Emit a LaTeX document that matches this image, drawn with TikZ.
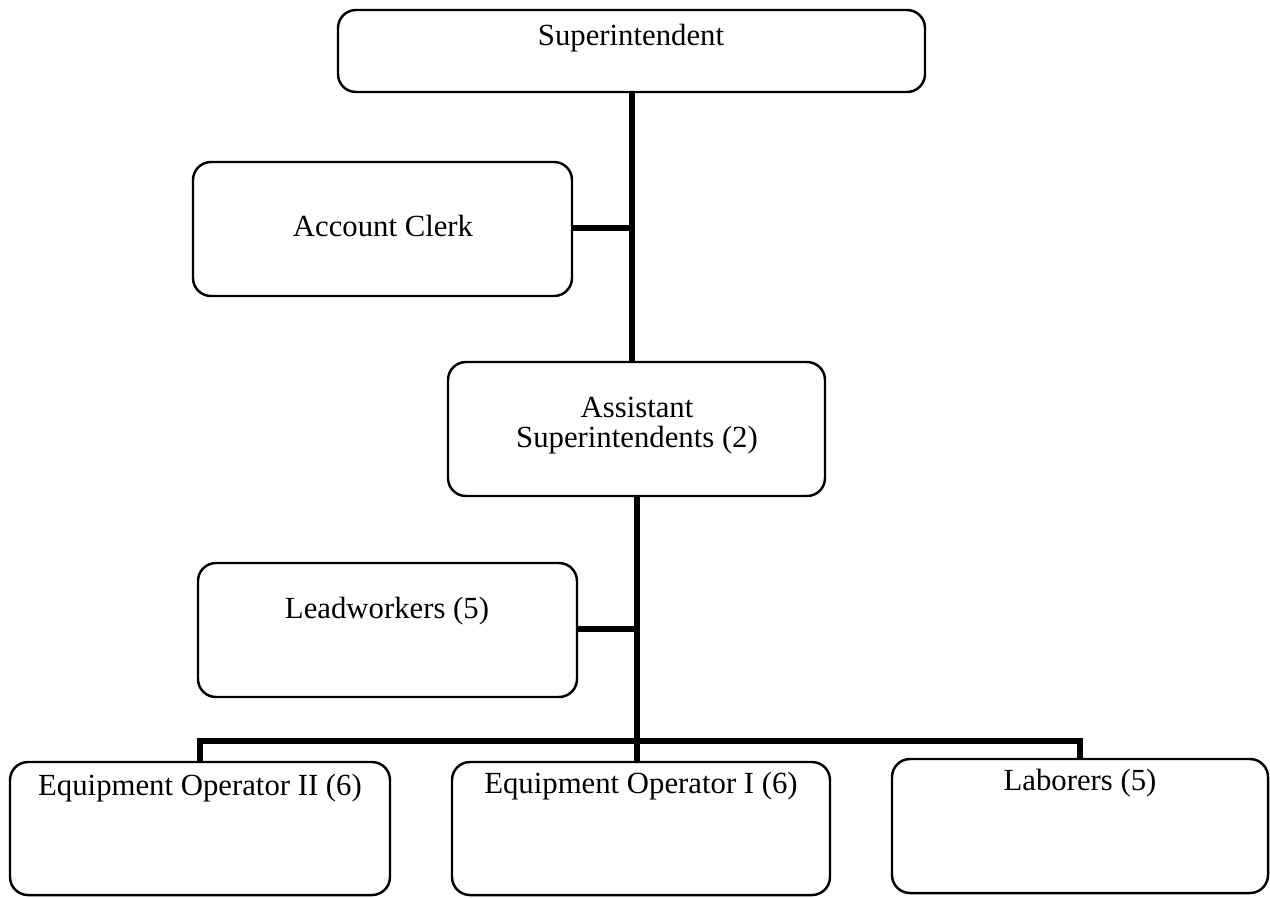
\documentclass[tikz,border=0pt]{standalone}
\usepackage{fontspec}
\setmainfont{Liberation Serif}
\begin{document}
\begin{tikzpicture}[x=0.02cm,y=-0.02cm,
  box/.style={draw=black, line width=1.4pt, rounded corners=0.36cm, inner sep=0pt},
  lbl/.style={font=\fontsize{17.5}{17}\selectfont, align=center, inner sep=0pt, anchor=base},
  link/.style={draw=black, line width=3.4pt}]
\useasboundingbox (0,0) rectangle (1270,897);
% boxes
\node[box, minimum width=587*0.02cm, minimum height=82*0.02cm] (sup) at (631.5,51) {};
\node[box, minimum width=379*0.02cm, minimum height=134*0.02cm] (clerk) at (382.5,229) {};
\node[box, minimum width=377*0.02cm, minimum height=134*0.02cm] (asst) at (636.5,429) {};
\node[box, minimum width=379*0.02cm, minimum height=134*0.02cm] (lead) at (387.5,630) {};
\node[box, minimum width=380*0.02cm, minimum height=133*0.02cm] (eo2) at (200,828.5) {};
\node[box, minimum width=378*0.02cm, minimum height=133*0.02cm] (eo1) at (641,828.5) {};
\node[box, minimum width=376*0.02cm, minimum height=134*0.02cm] (lab) at (1080,826) {};
% labels (placed by baseline)
\node[lbl] (tsup) at (631,45) {Superintendent};
\node[lbl] (tclerk) at (383,236) {Account Clerk};
\node[lbl] (tasst1) at (637,417) {Assistant};
\node[lbl] (tasst2) at (637,447) {Superintendents (2)};
\node[lbl] (tlead) at (387,618) {Leadworkers (5)};
\node[lbl] (teo2) at (200,795) {Equipment Operator II (6)};
\node[lbl] (teo1) at (641,793) {Equipment Operator I (6)};
\node[lbl] (tlab) at (1080,790) {Laborers (5)};
% connectors
\coordinate (j1) at (632,228);
\coordinate (j2) at (637,629);
\coordinate (bar) at (637,741);
\draw[link] (sup.south -| j1) -- (asst.north -| j1);
\draw[link] (clerk.east |- j1) -- (j1);
\draw[link] (asst.south -| bar) -- (bar);
\draw[link] (lead.east |- j2) -- (j2);
\draw[link] (eo2.north) |- (bar) -| (lab.north);
\draw[link] (bar) -- (eo1.north -| bar);
\end{tikzpicture}
\end{document}
